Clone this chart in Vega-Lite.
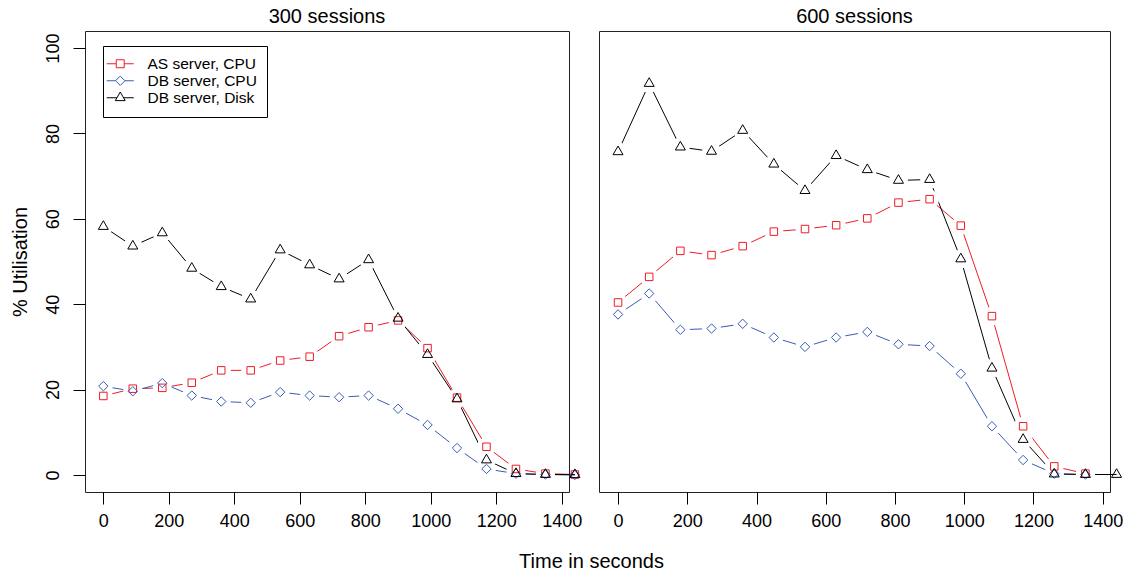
{
  "$schema": "https://vega.github.io/schema/vega-lite/v6.json",
  "padding": {"left": 9, "top": 6, "right": 5, "bottom": 0},
  "bounds": "flush",
  "config": {
    "font": "Liberation Sans",
    "view": {"stroke": "#222222", "strokeWidth": 1},
    "axis": {"grid": false, "domain": false, "tickColor": "black", "tickWidth": 1, "labelColor": "black", "titleColor": "black", "labelFont": "Liberation Sans", "titleFont": "Liberation Sans", "labelFontSize": 18, "titleFontSize": 20, "titleFontWeight": "normal", "tickSize": 12},
    "title": {"fontSize": 20, "fontWeight": "normal", "font": "Liberation Sans", "color": "black"},
    "legend": {"labelFont": "Liberation Sans", "labelColor": "black"}
  },
  "datasets": {
    "s300": [
      {"time": 0, "series": "AS server, CPU", "value": 18.5}, {"time": 0, "series": "DB server, CPU", "value": 20.8}, {"time": 0, "series": "DB server, Disk", "value": 58.2},
      {"time": 90, "series": "AS server, CPU", "value": 20.2}, {"time": 90, "series": "DB server, CPU", "value": 19.6}, {"time": 90, "series": "DB server, Disk", "value": 53.6},
      {"time": 180, "series": "AS server, CPU", "value": 20.4}, {"time": 180, "series": "DB server, CPU", "value": 21.5}, {"time": 180, "series": "DB server, Disk", "value": 56.7},
      {"time": 270, "series": "AS server, CPU", "value": 21.6}, {"time": 270, "series": "DB server, CPU", "value": 18.6}, {"time": 270, "series": "DB server, Disk", "value": 48.4},
      {"time": 360, "series": "AS server, CPU", "value": 24.5}, {"time": 360, "series": "DB server, CPU", "value": 17.2}, {"time": 360, "series": "DB server, Disk", "value": 44.1},
      {"time": 450, "series": "AS server, CPU", "value": 24.5}, {"time": 450, "series": "DB server, CPU", "value": 16.9}, {"time": 450, "series": "DB server, Disk", "value": 41.2},
      {"time": 540, "series": "AS server, CPU", "value": 26.8}, {"time": 540, "series": "DB server, CPU", "value": 19.4}, {"time": 540, "series": "DB server, Disk", "value": 52.7},
      {"time": 630, "series": "AS server, CPU", "value": 27.7}, {"time": 630, "series": "DB server, CPU", "value": 18.6}, {"time": 630, "series": "DB server, Disk", "value": 49.2},
      {"time": 720, "series": "AS server, CPU", "value": 32.5}, {"time": 720, "series": "DB server, CPU", "value": 18.2}, {"time": 720, "series": "DB server, Disk", "value": 45.9},
      {"time": 810, "series": "AS server, CPU", "value": 34.6}, {"time": 810, "series": "DB server, CPU", "value": 18.6}, {"time": 810, "series": "DB server, Disk", "value": 50.4},
      {"time": 900, "series": "AS server, CPU", "value": 36.2}, {"time": 900, "series": "DB server, CPU", "value": 15.5}, {"time": 900, "series": "DB server, Disk", "value": 36.7},
      {"time": 990, "series": "AS server, CPU", "value": 29.7}, {"time": 990, "series": "DB server, CPU", "value": 11.7}, {"time": 990, "series": "DB server, Disk", "value": 28.2},
      {"time": 1080, "series": "AS server, CPU", "value": 18.1}, {"time": 1080, "series": "DB server, CPU", "value": 6.3}, {"time": 1080, "series": "DB server, Disk", "value": 17.8},
      {"time": 1170, "series": "AS server, CPU", "value": 6.6}, {"time": 1170, "series": "DB server, CPU", "value": 1.4}, {"time": 1170, "series": "DB server, Disk", "value": 3.5},
      {"time": 1260, "series": "AS server, CPU", "value": 1.4}, {"time": 1260, "series": "DB server, CPU", "value": 0.3}, {"time": 1260, "series": "DB server, Disk", "value": 0.3},
      {"time": 1350, "series": "AS server, CPU", "value": 0.3}, {"time": 1350, "series": "DB server, CPU", "value": 0.1}, {"time": 1350, "series": "DB server, Disk", "value": 0.1},
      {"time": 1440, "series": "AS server, CPU", "value": 0.1}, {"time": 1440, "series": "DB server, CPU", "value": 0.0}, {"time": 1440, "series": "DB server, Disk", "value": 0.05}
    ],
    "s600": [
      {"time": 0, "series": "AS server, CPU", "value": 40.4}, {"time": 0, "series": "DB server, CPU", "value": 37.6}, {"time": 0, "series": "DB server, Disk", "value": 75.7},
      {"time": 90, "series": "AS server, CPU", "value": 46.4}, {"time": 90, "series": "DB server, CPU", "value": 42.5}, {"time": 90, "series": "DB server, Disk", "value": 91.7},
      {"time": 180, "series": "AS server, CPU", "value": 52.5}, {"time": 180, "series": "DB server, CPU", "value": 34.0}, {"time": 180, "series": "DB server, Disk", "value": 76.8},
      {"time": 270, "series": "AS server, CPU", "value": 51.5}, {"time": 270, "series": "DB server, CPU", "value": 34.3}, {"time": 270, "series": "DB server, Disk", "value": 75.8},
      {"time": 360, "series": "AS server, CPU", "value": 53.6}, {"time": 360, "series": "DB server, CPU", "value": 35.4}, {"time": 360, "series": "DB server, Disk", "value": 80.7},
      {"time": 450, "series": "AS server, CPU", "value": 57.0}, {"time": 450, "series": "DB server, CPU", "value": 32.2}, {"time": 450, "series": "DB server, Disk", "value": 72.8},
      {"time": 540, "series": "AS server, CPU", "value": 57.6}, {"time": 540, "series": "DB server, CPU", "value": 30.0}, {"time": 540, "series": "DB server, Disk", "value": 66.6},
      {"time": 630, "series": "AS server, CPU", "value": 58.5}, {"time": 630, "series": "DB server, CPU", "value": 32.2}, {"time": 630, "series": "DB server, Disk", "value": 74.8},
      {"time": 720, "series": "AS server, CPU", "value": 60.1}, {"time": 720, "series": "DB server, CPU", "value": 33.5}, {"time": 720, "series": "DB server, Disk", "value": 71.5},
      {"time": 810, "series": "AS server, CPU", "value": 63.8}, {"time": 810, "series": "DB server, CPU", "value": 30.6}, {"time": 810, "series": "DB server, Disk", "value": 69.0},
      {"time": 900, "series": "AS server, CPU", "value": 64.6}, {"time": 900, "series": "DB server, CPU", "value": 30.2}, {"time": 900, "series": "DB server, Disk", "value": 69.2},
      {"time": 990, "series": "AS server, CPU", "value": 58.4}, {"time": 990, "series": "DB server, CPU", "value": 23.7}, {"time": 990, "series": "DB server, Disk", "value": 50.6},
      {"time": 1080, "series": "AS server, CPU", "value": 37.2}, {"time": 1080, "series": "DB server, CPU", "value": 11.4}, {"time": 1080, "series": "DB server, Disk", "value": 25.0},
      {"time": 1170, "series": "AS server, CPU", "value": 11.4}, {"time": 1170, "series": "DB server, CPU", "value": 3.5}, {"time": 1170, "series": "DB server, Disk", "value": 8.3},
      {"time": 1260, "series": "AS server, CPU", "value": 2.0}, {"time": 1260, "series": "DB server, CPU", "value": 0.3}, {"time": 1260, "series": "DB server, Disk", "value": 0.2},
      {"time": 1350, "series": "AS server, CPU", "value": 0.3}, {"time": 1350, "series": "DB server, CPU", "value": 0.1}, {"time": 1350, "series": "DB server, Disk", "value": 0.1},
      {"time": 1440, "series": "DB server, Disk", "value": 0.1}
    ]
  },
  "spacing": 30,
  "resolve": {"scale": {"color": "independent", "shape": "independent", "stroke": "independent"}, "legend": {"color": "independent", "shape": "independent", "stroke": "independent"}},
  "hconcat": [
    {
      "width": 484,
      "height": 461,
      "title": {"text": "300 sessions", "offset": -16, "baseline": "bottom"},
      "data": {"name": "s300"},
      "encoding": {
        "x": {"field": "time", "type": "quantitative", "scale": {"domain": [-56, 1422], "nice": false, "zero": false},
          "axis": {"values": [0, 200, 400, 600, 800, 1000, 1200, 1400], "format": "d", "title": "Time in seconds", "titleX": 506, "titleY": 75, "titleBaseline": "alphabetic", "titleAlign": "center", "titleAnchor": null, "labelPadding": 8, "labelFlush": false, "labelOverlap": false}},
        "y": {"field": "value", "type": "quantitative", "scale": {"domain": [-4, 104], "nice": false, "zero": false},
          "axis": {"values": [0, 20, 40, 60, 80, 100], "format": "d", "title": "% Utilisation", "titleAngle": 270, "titleX": -59, "titleY": 230.5, "titleBaseline": "alphabetic", "titleAlign": "center", "labelAngle": 270, "labelPadding": 11, "labelOverlap": false}}
      },
      "layer": [
        {
          "mark": {"type": "point", "filled": false, "strokeWidth": 1, "opacity": 1, "size": 0},
          "encoding": {
            "color": {"field": "series", "type": "nominal", "scale": {"domain": ["AS server, CPU", "DB server, CPU", "DB server, Disk"], "range": ["#EE1C25", "#3A5BB5", "#000000"]},
              "legend": {"orient": "none", "legendX": 18, "legendY": 15, "title": null, "symbolSize": 196, "symbolOffset": -0.5, "labelFontSize": 15.5, "labelOffset": 19.5, "padding": 10, "rowPadding": 0, "strokeColor": "black", "fillColor": "white", "symbolStrokeWidth": 1}},
            "shape": {"field": "series", "type": "nominal", "scale": {"domain": ["AS server, CPU", "DB server, CPU", "DB server, Disk"], "range": ["M-1.93,0H-0.57M0.57,0H1.93M-0.57,-0.57H0.57V0.57H-0.57Z", "M-1.93,0H-0.67M0.67,0H1.93M0,-0.67L0.67,0L0,0.67L-0.67,0Z", "M-1.93,0H-0.47M0.47,0H1.93M0,-0.82L0.71,0.41L-0.71,0.41Z"]},
              "legend": {"orient": "none", "legendX": 18, "legendY": 15, "title": null, "symbolSize": 196, "symbolOffset": -0.5, "labelFontSize": 15.5, "labelOffset": 19.5, "padding": 10, "rowPadding": 0, "strokeColor": "black", "fillColor": "white", "symbolStrokeWidth": 1}}
          }
        },
        {
          "mark": {"type": "line", "strokeWidth": 1},
          "encoding": {
            "stroke": {"field": "series", "type": "nominal", "scale": {"domain": ["AS server, CPU", "DB server, CPU", "DB server, Disk"], "range": ["#EE1C25", "#3A5BB5", "#000000"]}, "legend": null}
          }
        },
        {
          "transform": [{"filter": "datum.time < 1440"}],
          "mark": {"type": "point", "shape": "circle", "filled": true, "fill": "white", "opacity": 1, "size": 361, "strokeWidth": 0}
        },
        {
          "transform": [{"filter": "datum.series == 'AS server, CPU'"}],
          "mark": {"type": "point", "filled": false, "stroke": "#EE1C25", "strokeWidth": 1, "opacity": 1, "size": 100, "shape": "M-0.75,-0.75H0.75V0.75H-0.75Z"}
        },
        {
          "transform": [{"filter": "datum.series == 'DB server, CPU'"}],
          "mark": {"type": "point", "filled": false, "stroke": "#3A5BB5", "strokeWidth": 1, "opacity": 1, "size": 100, "shape": "M0,-0.94L0.94,0L0,0.94L-0.94,0Z"}
        },
        {
          "transform": [{"filter": "datum.series == 'DB server, Disk'"}],
          "mark": {"type": "point", "filled": false, "stroke": "#000000", "strokeWidth": 1, "opacity": 1, "size": 100, "shape": "M0,-1.155L1,0.577L-1,0.577Z"}
        }
      ]
    },
    {
      "width": 511,
      "height": 461,
      "title": {"text": "600 sessions", "offset": -16, "baseline": "bottom"},
      "data": {"name": "s600"},
      "encoding": {
        "x": {"field": "time", "type": "quantitative", "scale": {"domain": [-55, 1421], "nice": false, "zero": false},
          "axis": {"values": [0, 200, 400, 600, 800, 1000, 1200, 1400], "format": "d", "title": null, "labelPadding": 8, "labelFlush": false, "labelOverlap": false}},
        "y": {"field": "value", "type": "quantitative", "scale": {"domain": [-4, 104], "nice": false, "zero": false}, "axis": null}
      },
      "layer": [
        {
          "mark": {"type": "line", "strokeWidth": 1},
          "encoding": {
            "stroke": {"field": "series", "type": "nominal", "scale": {"domain": ["AS server, CPU", "DB server, CPU", "DB server, Disk"], "range": ["#EE1C25", "#3A5BB5", "#000000"]}, "legend": null}
          }
        },
        {
          "transform": [{"filter": "datum.time < 1440"}],
          "mark": {"type": "point", "shape": "circle", "filled": true, "fill": "white", "opacity": 1, "size": 361, "strokeWidth": 0}
        },
        {
          "transform": [{"filter": "datum.series == 'AS server, CPU'"}],
          "mark": {"type": "point", "filled": false, "stroke": "#EE1C25", "strokeWidth": 1, "opacity": 1, "size": 100, "shape": "M-0.75,-0.75H0.75V0.75H-0.75Z"}
        },
        {
          "transform": [{"filter": "datum.series == 'DB server, CPU'"}],
          "mark": {"type": "point", "filled": false, "stroke": "#3A5BB5", "strokeWidth": 1, "opacity": 1, "size": 100, "shape": "M0,-0.94L0.94,0L0,0.94L-0.94,0Z"}
        },
        {
          "transform": [{"filter": "datum.series == 'DB server, Disk'"}],
          "mark": {"type": "point", "filled": false, "stroke": "#000000", "strokeWidth": 1, "opacity": 1, "size": 100, "shape": "M0,-1.155L1,0.577L-1,0.577Z"}
        }
      ]
    }
  ]
}
